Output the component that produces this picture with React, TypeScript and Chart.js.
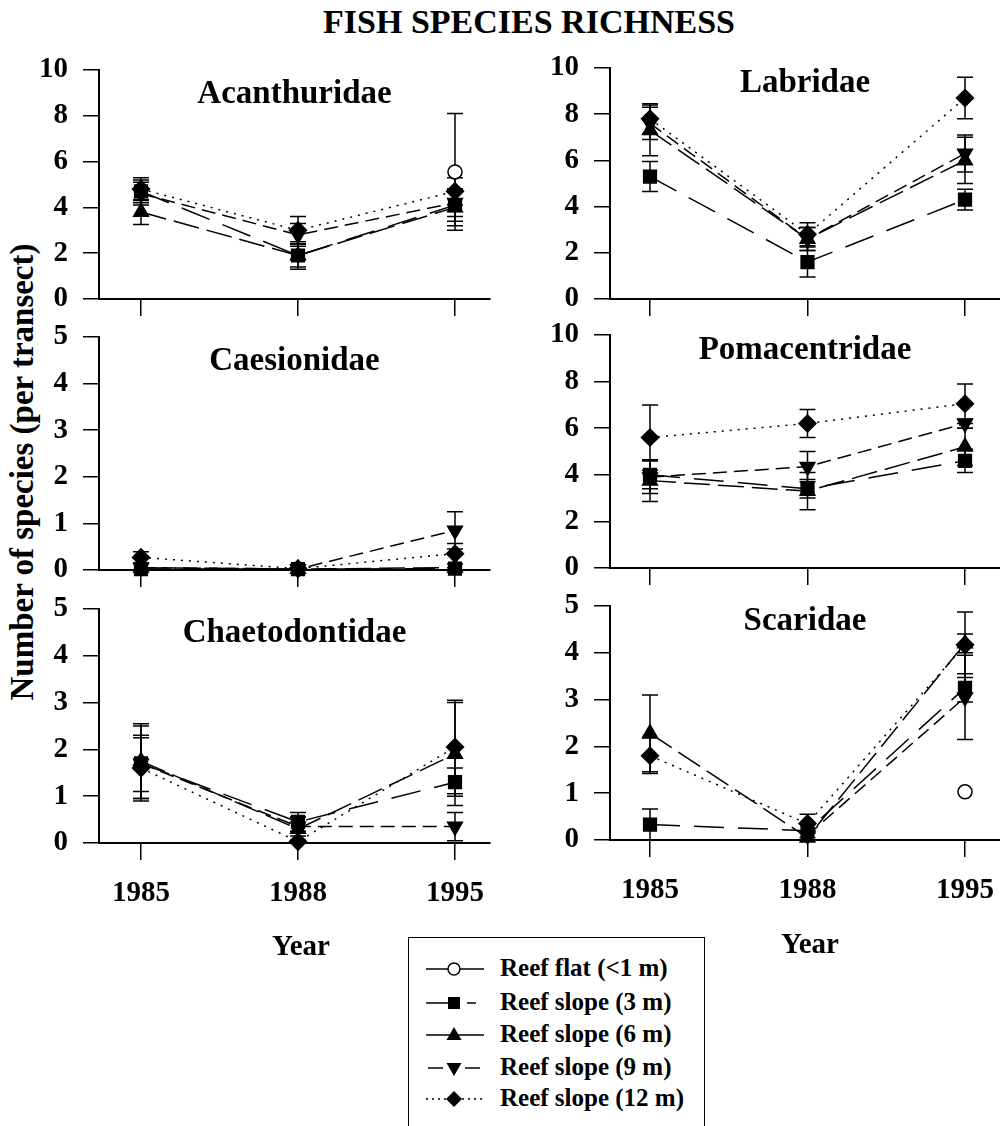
import React, { useEffect, useRef } from 'react';
import { Chart, registerables } from 'chart.js';

Chart.register(...registerables);

const FONT = "'Liberation Serif', 'Times New Roman', Times, serif";

// ---------- data ----------
const years = ['1985', '1988', '1995'];
const seriesLabels = [
  'Reef flat (<1 m)',
  'Reef slope (3 m)',
  'Reef slope (6 m)',
  'Reef slope (9 m)',
  'Reef slope (12 m)',
];

// series order: flat, 3 m, 6 m, 9 m, 12 m ; values per year 1985, 1988, 1995
const acanthuridaeMean = [[null, null, 5.55], [4.7, 1.9, 4.1], [3.8, 1.9, 4.0], [4.6, 2.8, 4.2], [4.8, 3.0, 4.7]];
const acanthuridaeErr = [[0, 0, 2.55], [0.5, 0.6, 0.7], [0.55, 0.5, 0.8], [0.5, 0.5, 0.6], [0.5, 0.6, 0.6]];

const labridaeMean = [[null, null, null], [5.3, 1.6, 4.3], [7.3, 2.6, 6.0], [7.6, 2.6, 6.3], [7.8, 2.8, 8.7]];
const labridaeErr = [[0, 0, 0], [0.65, 0.65, 0.45], [1.1, 0.5, 1.0], [0.7, 0.5, 0.8], [0.65, 0.5, 0.9]];

const caesionidaeMean = [[null, null, null], [0.02, 0.02, 0.03], [0.05, 0.02, 0.05], [0.05, 0.02, 0.85], [0.27, 0.03, 0.35]];
const caesionidaeErr = [[0, 0, 0], [0, 0, 0], [0, 0, 0], [0, 0, 0.4], [0.12, 0, 0.22]];

const pomacentridaeMean = [[null, null, null], [4.0, 3.4, 4.6], [3.75, 3.3, 5.2], [3.9, 4.35, 6.2], [5.6, 6.2, 7.05]];
const pomacentridaeErr = [[0, 0, 0], [0.6, 0.4, 0.5], [0.9, 0.8, 0.8], [0.7, 0.65, 0.2], [1.4, 0.6, 0.85]];

const chaetodontidaeMean = [[null, null, null], [1.7, 0.45, 1.3], [1.75, 0.3, 1.9], [1.7, 0.35, 0.35], [1.6, 0.03, 2.05]];
const chaetodontidaeErr = [[0, 0, 0], [0.8, 0.2, 0.3], [0.8, 0.25, 1.1], [0.6, 0.2, 0.3], [0.65, 0.03, 1.0]];

const scaridaeMean = [[null, null, 1.03], [0.33, 0.2, 3.25], [2.28, 0.05, 4.2], [null, 0.1, 3.05], [1.8, 0.35, 4.17]];
const scaridaeErr = [[0, 0, 0], [0.33, 0.15, 0.3], [0.82, 0.1, 0.2], [0, 0.1, 0.9], [0.38, 0.2, 0.7]];

const panelTitles = ['Acanthuridae', 'Labridae', 'Caesionidae', 'Pomacentridae', 'Chaetodontidae', 'Scaridae'];
const panelMeans = [acanthuridaeMean, labridaeMean, caesionidaeMean, pomacentridaeMean, chaetodontidaeMean, scaridaeMean];
const panelErrs = [acanthuridaeErr, labridaeErr, caesionidaeErr, pomacentridaeErr, chaetodontidaeErr, scaridaeErr];
const panelYMax = [10, 10, 5, 10, 5, 5];
const panelYStep = [2, 2, 1, 2, 1, 1];

// ---------- styles ----------
const pointStyles = ['circle', 'rect', 'triangle', 'triangle', 'rectRot'];
const pointRotations = [0, 0, 0, 180, 0];
const pointRadii = [7, 9, 8.5, 8.5, 8.5];
const pointFills = ['#ffffff', '#000000', '#000000', '#000000', '#000000'];
const lineDashes = [[], [30, 14], [26, 8], [14, 7], [2, 6]];

// ---------- layout ----------
const COLS = [
  { left: 0, x0: 99, x1: 490, t0: 141, t2: 455, titleOffset: 33 },
  { left: 500, x0: 610, x1: 1000, t0: 650, t2: 965, titleOffset: 24 },
];
const ROWS = [
  [{ y0: 70, y1: 299 }, { y0: 68, y1: 299 }],
  [{ y0: 337, y1: 570 }, { y0: 335, y1: 568 }],
  [{ y0: 609, y1: 843 }, { y0: 606, y1: 840 }],
];
const PAD_T = 22;

const errorBarPlugin = {
  id: 'errorBars',
  beforeDatasetsDraw(chart: any, _args: any, opts: any) {
    const { ctx } = chart;
    const xs = chart.scales.x;
    const ys = chart.scales.y;
    const errs = opts.errors || [];
    ctx.save();
    ctx.strokeStyle = '#000';
    ctx.lineWidth = 1.5;
    ctx.setLineDash([]);
    chart.data.datasets.forEach((ds: any, di: number) => {
      ds.data.forEach((pt: any, i: number) => {
        if (pt.y == null) return;
        const e = errs[di] ? errs[di][i] : 0;
        if (!e) return;
        const px = xs.getPixelForValue(pt.x);
        const top = ys.getPixelForValue(pt.y + e);
        const bot = ys.getPixelForValue(Math.max(0, pt.y - e));
        ctx.beginPath();
        ctx.moveTo(px, top);
        ctx.lineTo(px, bot);
        ctx.moveTo(px - 8, top);
        ctx.lineTo(px + 8, top);
        ctx.moveTo(px - 8, bot);
        ctx.lineTo(px + 8, bot);
        ctx.stroke();
      });
    });
    ctx.restore();
  },
};

const panelTitlePlugin = {
  id: 'panelTitle',
  afterDatasetsDraw(chart: any, _args: any, opts: any) {
    const { ctx, chartArea } = chart;
    ctx.save();
    ctx.font = `bold 33px ${FONT}`;
    ctx.fillStyle = '#000';
    ctx.textAlign = 'center';
    ctx.textBaseline = 'alphabetic';
    ctx.fillText(opts.text, (chartArea.left + chartArea.right) / 2, chartArea.top + opts.offset);
    ctx.restore();
  },
};

function Panel({ index }: { index: number }) {
  const ref = useRef<HTMLCanvasElement>(null);
  const col = COLS[index % 2];
  const rowIdx = Math.floor(index / 2);
  const row = ROWS[rowIdx][index % 2];
  const isBottom = rowIdx === 2;
  const yW = col.x0 - col.left;
  const xH = isBottom ? 90 : 22;
  const padR = index % 2 === 0 ? 500 - col.x1 : 0;
  const width = yW + (col.x1 - col.x0) + padR;
  const height = PAD_T + (row.y1 - row.y0) + xH;
  const unit = (col.t2 - col.t0) / 2;
  const xMin = -(col.t0 - col.x0) / unit;
  const xMax = 2 + (col.x1 - col.t2) / unit;

  useEffect(() => {
    const means = panelMeans[index];
    const errs = panelErrs[index];
    const datasets = means.map((vals, s) => ({
      label: seriesLabels[s],
      data: vals.map((v, i) => ({ x: i, y: v })),
      borderColor: '#000',
      borderWidth: 1.5,
      borderDash: lineDashes[s],
      pointStyle: pointStyles[s],
      pointRotation: pointRotations[s],
      pointRadius: pointRadii[s],
      pointBackgroundColor: pointFills[s],
      pointBorderColor: '#000',
      pointBorderWidth: 1.5,
      tension: 0,
      spanGaps: false,
      clip: false as any,
      fill: false,
    }));
    const chart = new Chart(ref.current as HTMLCanvasElement, {
      type: 'line',
      data: { datasets },
      plugins: [errorBarPlugin, panelTitlePlugin],
      options: {
        animation: false,
        responsive: false,
        maintainAspectRatio: false,
        layout: { autoPadding: false, padding: { top: PAD_T, right: padR, left: 0, bottom: 0 } },
        plugins: {
          legend: { display: false },
          tooltip: { enabled: false },
          title: { display: false },
          errorBars: { errors: errs },
          panelTitle: { text: panelTitles[index], offset: col.titleOffset },
        } as any,
        scales: {
          x: {
            type: 'linear',
            min: xMin,
            max: xMax,
            afterBuildTicks: (scale: any) => {
              scale.ticks = years.map((_, i) => ({ value: i }));
            },
            afterFit: (scale: any) => {
              scale.height = xH;
              scale.paddingLeft = 0;
              scale.paddingRight = 0;
              scale.paddingTop = 0;
              scale.paddingBottom = 0;
            },
            ticks: {
              display: isBottom,
              autoSkip: false,
              maxRotation: 0,
              padding: 16,
              color: '#000',
              font: { family: FONT, size: 29, weight: 'bold' },
              callback: (v: any) => years[v] ?? '',
            },
            grid: {
              drawOnChartArea: false,
              drawTicks: true,
              tickLength: 17,
              color: '#000',
              lineWidth: 1.5,
            },
            border: { display: true, color: '#000', width: 2 },
          },
          y: {
            type: 'linear',
            min: 0,
            max: panelYMax[index],
            afterFit: (scale: any) => {
              scale.width = yW;
              scale.paddingTop = 0;
              scale.paddingBottom = 0;
              scale.paddingLeft = 0;
              scale.paddingRight = 0;
            },
            ticks: {
              stepSize: panelYStep[index],
              padding: 15,
              color: '#000',
              font: { family: FONT, size: 29, weight: 'bold' },
            },
            grid: {
              drawOnChartArea: false,
              drawTicks: true,
              tickLength: 16,
              color: '#000',
              lineWidth: 1.5,
            },
            border: { display: true, color: '#000', width: 2 },
          },
        },
      } as any,
    });
    return () => chart.destroy();
  }, []);

  return (
    <canvas
      ref={ref}
      width={width}
      height={height}
      style={{ position: 'absolute', left: col.left, top: row.y0 - PAD_T, width, height, display: 'block' }}
    />
  );
}

function LegendSymbol({ s, cy }: { s: number; cy: number }) {
  const mx = 45;
  const stroke = { stroke: '#000', strokeWidth: 1.5 };
  let lines: React.ReactNode = null;
  if (s === 0 || s === 2) {
    lines = <line x1={17} y1={cy} x2={75} y2={cy} {...stroke} />;
  } else if (s === 1) {
    lines = (
      <g>
        <line x1={17} y1={cy} x2={45} y2={cy} {...stroke} />
        <line x1={58} y1={cy} x2={67} y2={cy} {...stroke} />
      </g>
    );
  } else if (s === 3) {
    lines = (
      <g>
        <line x1={19} y1={cy} x2={34} y2={cy} {...stroke} />
        <line x1={56} y1={cy} x2={71} y2={cy} {...stroke} />
      </g>
    );
  } else {
    lines = <line x1={17} y1={cy} x2={75} y2={cy} {...stroke} strokeDasharray="2 4" />;
  }
  let marker: React.ReactNode = null;
  if (s === 0) marker = <circle cx={mx} cy={cy} r={6} fill="#fff" {...stroke} />;
  if (s === 1) marker = <rect x={mx - 6} y={cy - 6} width={12} height={12} fill="#000" />;
  if (s === 2) marker = <polygon points={`${mx},${cy - 8} ${mx + 7.5},${cy + 5} ${mx - 7.5},${cy + 5}`} fill="#000" />;
  if (s === 3) marker = <polygon points={`${mx},${cy + 8} ${mx + 7.5},${cy - 5} ${mx - 7.5},${cy - 5}`} fill="#000" />;
  if (s === 4) marker = <polygon points={`${mx},${cy - 8} ${mx + 8},${cy} ${mx},${cy + 8} ${mx - 8},${cy}`} fill="#000" />;
  return (
    <g>
      {lines}
      {marker}
    </g>
  );
}

export default function App() {
  const rowYs = [31, 65, 97, 130, 161];
  const textStyle: React.CSSProperties = {
    position: 'absolute',
    fontFamily: FONT,
    fontWeight: 'bold',
    color: '#000',
    whiteSpace: 'nowrap',
    lineHeight: 1,
  };
  return (
    <div style={{ position: 'absolute', left: 0, top: 0, width: 1000, height: 1126, overflow: 'hidden', background: '#fff' }}>
      <div style={{ ...textStyle, fontSize: 34, left: 529, top: 5, transform: 'translateX(-50%)' }}>FISH SPECIES RICHNESS</div>
      <div
        style={{
          ...textStyle,
          fontSize: 33,
          left: 22,
          top: 472,
          transform: 'translate(-50%, -50%) rotate(-90deg)',
        }}
      >
        Number of species (per transect)
      </div>
      {[0, 1, 2, 3, 4, 5].map((i) => (
        <Panel key={i} index={i} />
      ))}
      <div style={{ ...textStyle, fontSize: 29, left: 301, top: 931, transform: 'translateX(-50%)' }}>Year</div>
      <div style={{ ...textStyle, fontSize: 29, left: 810, top: 929, transform: 'translateX(-50%)' }}>Year</div>
      <div
        style={{
          position: 'absolute',
          left: 408,
          top: 937,
          width: 297,
          height: 220,
          border: '1.5px solid #000',
          boxSizing: 'border-box',
          background: '#fff',
        }}
      >
        <svg width={90} height={200} style={{ position: 'absolute', left: 0, top: 0 }}>
          {rowYs.map((cy, s) => (
            <LegendSymbol key={s} s={s} cy={cy} />
          ))}
        </svg>
        {rowYs.map((cy, s) => (
          <div key={s} style={{ ...textStyle, fontSize: 25, left: 91, top: cy - 14 }}>
            {seriesLabels[s]}
          </div>
        ))}
      </div>
    </div>
  );
}
